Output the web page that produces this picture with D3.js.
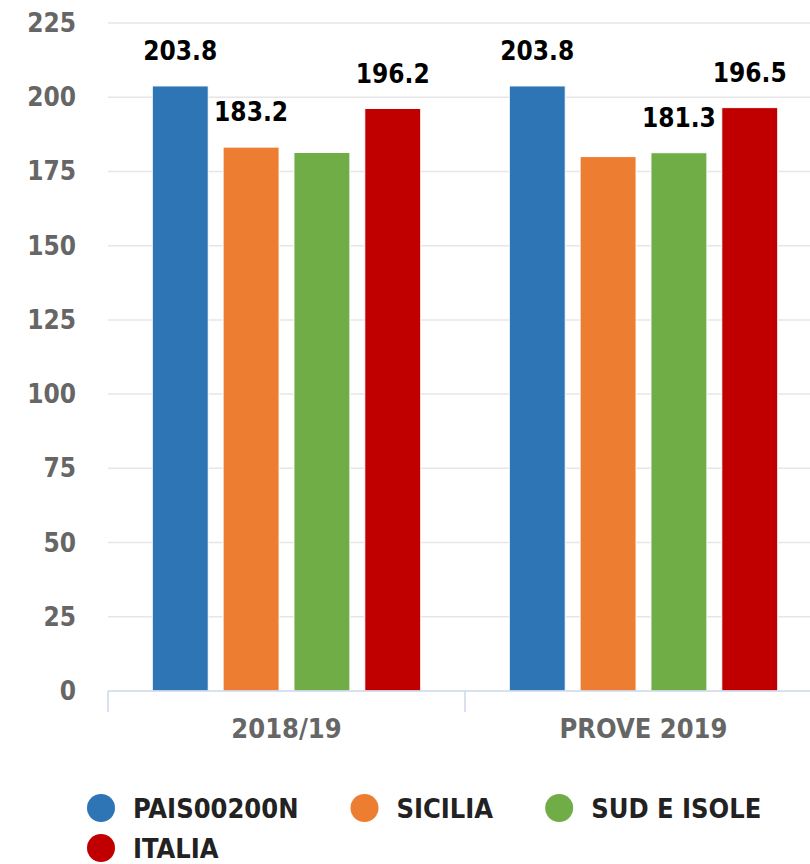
<!DOCTYPE html>
<html>
<head>
<meta charset="utf-8">
<script src="https://cdn.jsdelivr.net/npm/d3@7"></script>
<style>
  body { margin: 0; background: #fff; }
  text { font-family: "DejaVu Sans Condensed", "DejaVu Sans", sans-serif; font-stretch: condensed; }
</style>
</head>
<body>
<div id="container"></div>
<script>
// data
const categories = ["2018/19", "PROVE 2019"];
const seriesNames = ["PAIS00200N", "SICILIA", "SUD E ISOLE", "ITALIA"];
const seriesColors = ["#2e75b6", "#ed7d31", "#70ad47", "#c00000"];
const pais = [203.8, 203.8];
const sicilia = [183.2, 180.0];
const sudIsole = [181.4, 181.3];
const italia = [196.2, 196.5];
// labels hidden in the original where they overlapped
const labelShown = [[true, true], [true, false], [false, true], [true, true]];
const yTicks = [0, 25, 50, 75, 100, 125, 150, 175, 200, 225];

const seriesValues = [pais, sicilia, sudIsole, italia];

let w = 810;
let h = 864;
let svg = d3.select("#container").append("svg")
    .attr("width", w)
    .attr("height", h);

let plotLeft = 108, plotRight = 822, plotTop = 23, plotBottom = 691;

let y = d3.scaleLinear().domain([0, 225]).range([plotBottom, plotTop]);
let x0 = d3.scaleBand().domain(categories).range([plotLeft, plotRight]);
let x1 = d3.scaleBand().domain(seriesNames).range([0, x0.bandwidth()])
    .paddingInner(0.21).paddingOuter(0.625);

// grid
svg.append("g")
  .selectAll("line")
  .data(yTicks.filter(d => d > 0))
  .join("line")
    .attr("x1", plotLeft).attr("x2", w)
    .attr("y1", d => y(d)).attr("y2", d => y(d))
    .attr("stroke", "#e6e6e6")
    .attr("stroke-width", 1.5);

// y labels
svg.append("g")
  .selectAll("text")
  .data(yTicks)
  .join("text")
    .text(d => d)
    .attr("x", 76)
    .attr("y", d => y(d) + 9)
    .attr("text-anchor", "end")
    .attr("font-size", 26)
    .attr("font-weight", "bold")
    .attr("fill", "#666666");

// bars
let groups = svg.append("g")
  .selectAll("g")
  .data(seriesValues)
  .join("g")
    .attr("fill", (d, i) => seriesColors[i]);

groups.selectAll("rect")
  .data((d, i) => d.map((v, j) => ({v: v, s: seriesNames[i], c: categories[j]})))
  .join("rect")
    .attr("x", d => x0(d.c) + x1(d.s))
    .attr("width", x1.bandwidth())
    .attr("y", d => y(d.v))
    .attr("height", d => y(0) - y(d.v))
    .attr("stroke", "#ffffff")
    .attr("stroke-width", 1);

// data labels
groups.each(function(d, i) {
  d3.select(this).selectAll("text")
    .data(d.map((v, j) => ({v: v, s: seriesNames[i], c: categories[j], show: labelShown[i][j]})).filter(e => e.show))
    .join("text")
      .text(e => e.v.toFixed(1))
      .attr("x", e => x0(e.c) + x1(e.s) + x1.bandwidth() / 2)
      .attr("y", e => y(e.v) - 26)
      .attr("text-anchor", "middle")
      .attr("font-size", 26)
      .attr("font-weight", "bold")
      .attr("fill", "#000000")
      .attr("stroke", "#ffffff")
      .attr("stroke-width", 3)
      .attr("paint-order", "stroke");
});

// x axis
svg.append("line")
  .attr("x1", plotLeft).attr("x2", w)
  .attr("y1", plotBottom).attr("y2", plotBottom)
  .attr("stroke", "#ccd6eb")
  .attr("stroke-width", 1.5);

svg.append("g")
  .selectAll("line")
  .data(categories)
  .join("line")
    .attr("x1", d => x0(d)).attr("x2", d => x0(d))
    .attr("y1", plotBottom).attr("y2", plotBottom + 21)
    .attr("stroke", "#ccd6eb")
    .attr("stroke-width", 1.5);

svg.append("g")
  .selectAll("text")
  .data(categories)
  .join("text")
    .text(d => d)
    .attr("x", d => x0(d) + x0.bandwidth() / 2)
    .attr("y", 738)
    .attr("text-anchor", "middle")
    .attr("font-size", 27)
    .attr("font-weight", "bold")
    .attr("fill", "#666666");

// legend
let lx = 87, ly = 808;
seriesNames.forEach(function(name, i) {
  let item = svg.append("g");
  item.append("circle")
    .attr("cx", 14).attr("cy", 0).attr("r", 14)
    .attr("fill", seriesColors[i]);
  let t = item.append("text")
    .text(name)
    .attr("x", 46)
    .attr("y", 10)
    .attr("font-size", 27)
    .attr("font-weight", "bold")
    .attr("fill", "#222222");
  let iw = 46 + t.node().getComputedTextLength();
  if (lx + iw > 770) { lx = 87; ly += 40; }
  item.attr("transform", "translate(" + lx + "," + ly + ")");
  lx += iw + 52;
});
</script>
</body>
</html>
